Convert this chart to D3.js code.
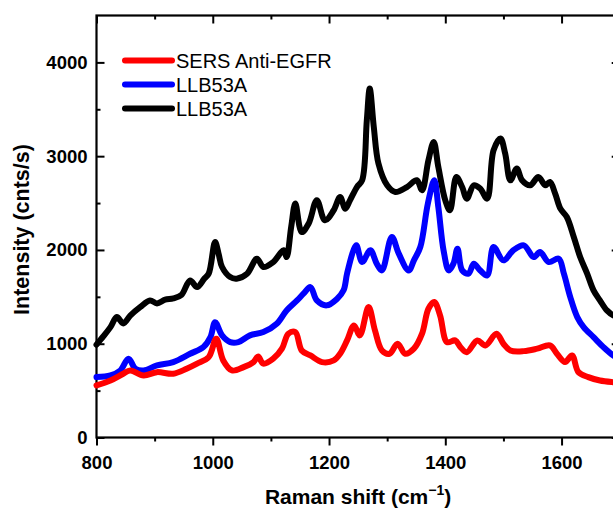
<!DOCTYPE html>
<html>
<head>
<meta charset="utf-8">
<script src="https://cdn.jsdelivr.net/npm/d3@7"></script>
<style>
	body { margin: 0; background: #fff; }
	svg { display: block; font-family: 'Liberation Sans', Arial, sans-serif; }
</style>
</head>
<body>
<svg id="svg" width="613" height="508"></svg>
<script>
// tick labels
const xTicks = [800, 1000, 1200, 1400, 1600];
const xMinor = [900, 1100, 1300, 1500];
const yTicks = [0, 1000, 2000, 3000, 4000];
const yMinor = [500, 1500, 2500, 3500];
const legendLabels = ['SERS Anti-EGFR', 'LLB53A', 'LLB53A'];

// black LLB53A
const blackShift = [800, 812, 824, 835, 846, 858, 875, 892, 904, 918, 932, 946, 961, 973, 985, 993, 1004, 1010, 1016, 1030, 1041, 1059, 1076, 1087, 1104, 1122, 1127, 1135, 1142, 1153, 1165, 1179, 1193, 1208, 1219, 1228, 1236, 1248, 1257, 1265, 1270, 1277, 1285, 1300, 1314, 1334, 1351, 1360, 1371, 1380, 1388, 1400, 1408, 1419, 1429, 1437, 1449, 1460, 1472, 1483, 1495, 1503, 1512, 1523, 1532, 1546, 1560, 1572, 1580, 1589, 1598, 1609, 1621, 1632, 1644, 1655, 1666, 1678, 1689, 1700];
const blackIntensity = [990, 1080, 1177, 1284, 1216, 1300, 1390, 1462, 1430, 1470, 1483, 1520, 1675, 1604, 1690, 1747, 2085, 1960, 1818, 1711, 1694, 1747, 1907, 1818, 1871, 1996, 1924, 2250, 2494, 2191, 2281, 2529, 2316, 2423, 2564, 2440, 2529, 2671, 2743, 3383, 3721, 3311, 2921, 2689, 2618, 2671, 2743, 2636, 2956, 3152, 2885, 2529, 2423, 2778, 2671, 2547, 2689, 2654, 2547, 3063, 3188, 3028, 2743, 2868, 2743, 2689, 2778, 2689, 2725, 2601, 2440, 2351, 2138, 1924, 1747, 1569, 1462, 1355, 1302, 1280];

// blue LLB53A
const blueShift = [800, 824, 841, 855, 867, 881, 904, 932, 961, 984, 996, 1004, 1016, 1030, 1044, 1064, 1087, 1110, 1127, 1145, 1156, 1168, 1179, 1196, 1214, 1225, 1231, 1242, 1247, 1257, 1271, 1282, 1291, 1308, 1320, 1337, 1346, 1357, 1370, 1381, 1388, 1397, 1406, 1414, 1421, 1429, 1440, 1449, 1460, 1472, 1483, 1500, 1517, 1535, 1552, 1563, 1578, 1595, 1604, 1615, 1627, 1638, 1655, 1672, 1689, 1700];
const blueIntensity = [644, 662, 715, 840, 733, 715, 768, 804, 893, 964, 1070, 1230, 1089, 1017, 1017, 1089, 1124, 1213, 1355, 1462, 1533, 1604, 1462, 1409, 1480, 1569, 1747, 1996, 2049, 1871, 1996, 1854, 1782, 2138, 1960, 1782, 1889, 2031, 2494, 2743, 2458, 1996, 1782, 1854, 2014, 1782, 1747, 1854, 1782, 1729, 2031, 1889, 1996, 2049, 1924, 1978, 1871, 1907, 1747, 1497, 1284, 1177, 1070, 964, 875, 840];

// red SERS Anti-EGFR
const redShift = [800, 824, 846, 858, 881, 904, 932, 955, 973, 993, 1006, 1018, 1033, 1053, 1070, 1078, 1087, 1104, 1119, 1130, 1142, 1153, 1168, 1188, 1208, 1219, 1231, 1243, 1253, 1268, 1279, 1291, 1304, 1318, 1331, 1346, 1360, 1371, 1381, 1391, 1403, 1417, 1426, 1437, 1455, 1469, 1488, 1500, 1512, 1535, 1558, 1580, 1592, 1606, 1618, 1629, 1646, 1666, 1689, 1700];
const redIntensity = [555, 608, 680, 715, 662, 697, 680, 733, 787, 857, 1053, 822, 715, 750, 804, 864, 787, 840, 947, 1107, 1124, 928, 875, 804, 822, 893, 1035, 1195, 1089, 1391, 1142, 928, 893, 1000, 893, 947, 1107, 1373, 1444, 1302, 1017, 1035, 964, 910, 1035, 982, 1107, 1000, 928, 921, 947, 982, 893, 804, 875, 697, 644, 608, 590, 585];

const margin = { top: 15.5, left: 96.5 };
const plotRight = 619.7;
const plotBottom = 437.5;

const svg = d3.select('#svg');

const x = d3.scaleLinear().domain([800, 1700]).range([margin.left, plotRight]);
const y = d3.scaleLinear().domain([0, 4500]).range([plotBottom, margin.top]);

const noDomain = (g) => g.select('.domain').remove();

// axes
svg.append('g')
	.attr('transform', `translate(0, ${plotBottom})`)
	.call(d3.axisBottom(x).tickValues(xTicks).tickSize(8).tickPadding(10).tickFormat(d3.format('d')))
	.call(noDomain)
	.call((g) => g.selectAll('text').attr('font-size', 18.5).attr('font-weight', 'bold').attr('font-family', null));

svg.append('g')
	.attr('transform', `translate(0, ${plotBottom})`)
	.call(d3.axisBottom(x).tickValues(xMinor).tickSize(4).tickFormat(''))
	.call(noDomain);

svg.append('g')
	.attr('transform', `translate(0, ${margin.top})`)
	.call(d3.axisTop(x).tickValues(xTicks).tickSize(-8).tickFormat(''))
	.call(noDomain);

svg.append('g')
	.attr('transform', `translate(0, ${margin.top})`)
	.call(d3.axisTop(x).tickValues(xMinor).tickSize(-4).tickFormat(''))
	.call(noDomain);

svg.append('g')
	.attr('transform', `translate(${margin.left}, 0)`)
	.call(d3.axisLeft(y).tickValues(yTicks).tickSize(-8).tickPadding(9).tickFormat(d3.format('d')))
	.call(noDomain)
	.call((g) => g.selectAll('text').attr('font-size', 18.5).attr('font-weight', 'bold').attr('font-family', null));

svg.append('g')
	.attr('transform', `translate(${margin.left}, 0)`)
	.call(d3.axisLeft(y).tickValues(yMinor).tickSize(-4).tickFormat(''))
	.call(noDomain);

svg.append('g')
	.attr('transform', `translate(${plotRight}, 0)`)
	.call(d3.axisRight(y).tickValues(yTicks).tickSize(-8).tickFormat(''))
	.call(noDomain);

svg.selectAll('.tick line').attr('stroke', '#000').attr('stroke-width', 2);

// frame
svg.append('rect')
	.attr('x', margin.left)
	.attr('y', margin.top)
	.attr('width', plotRight - margin.left)
	.attr('height', plotBottom - margin.top)
	.attr('fill', 'none')
	.attr('stroke', '#000')
	.attr('stroke-width', 2.2);

// lines
const series = [
	{ xs: blackShift, ys: blackIntensity, color: '#000000' },
	{ xs: blueShift, ys: blueIntensity, color: '#0000ff' },
	{ xs: redShift, ys: redIntensity, color: '#ff0000' }
];

const line = d3.line()
	.x((d) => x(d[0]))
	.y((d) => y(d[1]))
	.curve(d3.curveCatmullRom.alpha(0.5));

const lineGroup = svg.append('g');
series.forEach((s) => {
	lineGroup.append('path')
		.datum(s.xs.map((v, i) => [v, s.ys[i]]))
		.attr('d', line)
		.attr('fill', 'none')
		.attr('stroke', s.color)
		.attr('stroke-width', 6)
		.attr('stroke-linejoin', 'round')
		.attr('stroke-linecap', 'round');
});

// legend
const legendColors = ['#ff0000', '#0000ff', '#000000'];
const legend = svg.append('g');
legendLabels.forEach((label, i) => {
	const ly = 60.5 + i * 24;
	legend.append('line')
		.attr('x1', 125).attr('x2', 172)
		.attr('y1', ly).attr('y2', ly)
		.attr('stroke', legendColors[i])
		.attr('stroke-width', 6)
		.attr('stroke-linecap', 'round');
	legend.append('text')
		.attr('x', 176)
		.attr('y', ly)
		.attr('dy', '0.36em')
		.attr('font-size', 20)
		.text(label);
});

// axis titles
const xTitle = svg.append('text')
	.attr('x', (margin.left + plotRight) / 2)
	.attr('y', 504)
	.attr('text-anchor', 'middle')
	.attr('font-size', 21)
	.attr('font-weight', 'bold')
	.text('Raman shift (cm');
xTitle.append('tspan')
	.attr('font-size', 14)
	.attr('dy', -9)
	.text('\u22121');
xTitle.append('tspan')
	.attr('dy', 9)
	.text(')');

svg.append('text')
	.attr('transform', 'rotate(-90)')
	.attr('x', -(margin.top + plotBottom) / 2 - 3)
	.attr('y', 29)
	.attr('text-anchor', 'middle')
	.attr('font-size', 21.5)
	.attr('font-weight', 'bold')
	.text('Intensity (cnts/s)');
</script>
</body>
</html>
